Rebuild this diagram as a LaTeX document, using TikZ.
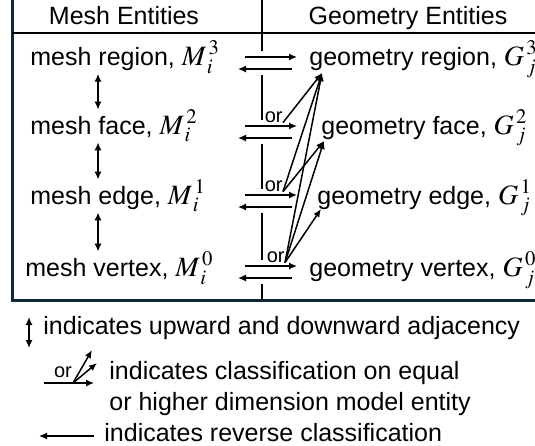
\documentclass[tikz,border=0pt]{standalone}
\usepackage{mathptmx}
\usepackage{fontspec}
\setmainfont{Liberation Sans}
\definecolor{framenavy}{RGB}{14,40,58}
\usetikzlibrary{arrows.meta,positioning,calc}
\newcommand{\entsym}[3]{{\fontsize{14}{16}\selectfont$#1^{\,#3}_{\,#2}$}}

\begin{document}
\begin{tikzpicture}[x=0.5pt, y=-0.5pt, font=\fontsize{12.5}{15}\selectfont,
  ent/.style={inner sep=0pt, anchor=base west},
  orlab/.style={inner sep=0pt, anchor=base east, font=\fontsize{10}{12}\selectfont},
  cls/.style={-{Latex[length=4pt,width=3.6pt]}, line width=1pt},
  adj/.style={{Latex[length=4pt,width=3.6pt]}-{Latex[length=4pt,width=3.6pt]}, line width=1pt},
  up/.style={-{Latex[length=4pt,width=3.4pt]}, line width=0.75pt}]
\clip (0,0) rectangle (535,445);
% Table
\draw[framenavy, line width=1.5pt] (12,-10) rectangle (545,300);
\draw[line width=1.25pt] (12,33) -- (535,33);
\draw[line width=1.25pt] (262,0) -- (262,51) (262,75) -- (262,120)
  (262,144) -- (262,189) (262,213) -- (262,260) (262,284) -- (262,300);
\node[anchor=base] (mhead) at (124,24) {Mesh Entities};
\node[anchor=base] (ghead) at (408,24) {Geometry Entities};
% Mesh entities
\node[ent] (mreg) at (30,65) {mesh region, \entsym{M}{i}{3}};
\node[ent] (mfac) at (30,134) {mesh face, \entsym{M}{i}{2}};
\node[ent] (medg) at (30,204) {mesh edge, \entsym{M}{i}{1}};
\node[ent] (mver) at (25,276) {mesh vertex, \entsym{M}{i}{0}};
% Geometry entities
\node[ent] (greg) at (309,65) {geometry region, \entsym{G}{j}{3}};
\node[ent] (gfac) at (321,134) {geometry face, \entsym{G}{j}{2}};
\node[ent] (gedg) at (317,204) {geometry edge, \entsym{G}{j}{1}};
\node[ent] (gver) at (309,276) {geometry vertex, \entsym{G}{j}{0}};
% Adjacency
\coordinate (ax) at (98,0);
\draw[adj] (mreg.south -| ax) -- (mfac.north -| ax);
\draw[adj] (mfac.south -| ax) -- (medg.north -| ax);
\draw[adj] (medg.south -| ax) -- (mver.north -| ax);
% Classification and reverse classification
\foreach \k/\c in {1/63,2/132,3/201,4/272} {
  \coordinate (ra\k) at (245,\c-6);
  \coordinate (rb\k) at (297,\c-6);
  \coordinate (la\k) at (238,\c+6);
  \coordinate (lb\k) at (292,\c+6);
  \draw[cls] (ra\k) -- (rb\k);
  \draw[cls] (lb\k) -- (la\k);
}
\node[orlab] (or2) at (283,122) {or};
\node[orlab] (or3) at (283,191) {or};
\node[orlab] (or4) at (285,262) {or};
\coordinate (t3) at (322,73);
\coordinate (t2) at (324,141);
\coordinate (t1) at (321,209);
\draw[up] (or2.south east) -- (t3);
\draw[up] (or3.south east) -- (t3);
\draw[up] (or3.south east) -- (t2);
\draw[up] (or4.south east) -- (t3);
\draw[up] (or4.south east) -- (t2);
\draw[up] (or4.south east) -- (t1);
% Legend
\node[ent] (ladj) at (43,334) {indicates upward and downward adjacency};
\coordinate (la) at (29,317);
\coordinate (lb) at (29,348);
\draw[adj] (la) -- (lb);
\node[ent] (lcls) at (109,379) {indicates classification on equal};
\node[ent] (lcls2) at (109,410) {or higher dimension model entity};
\node[orlab, anchor=base] (lor) at (63,377) {or};
\coordinate (lh0) at (44,383);
\coordinate (lh1) at (94,383);
\coordinate (lh2) at (73,383);
\coordinate (lu1) at (92,350);
\coordinate (lu2) at (97,363);
\draw[cls] (lh0) -- (lh1);
\draw[up] (lh2) -- (lu1);
\draw[up] (lh2) -- (lu2);
\node[ent] (lrev) at (104,441) {indicates reverse classification};
\coordinate (lr0) at (94,436);
\coordinate (lr1) at (39,436);
\draw[cls] (lr0) -- (lr1);
\end{tikzpicture}
\end{document}
